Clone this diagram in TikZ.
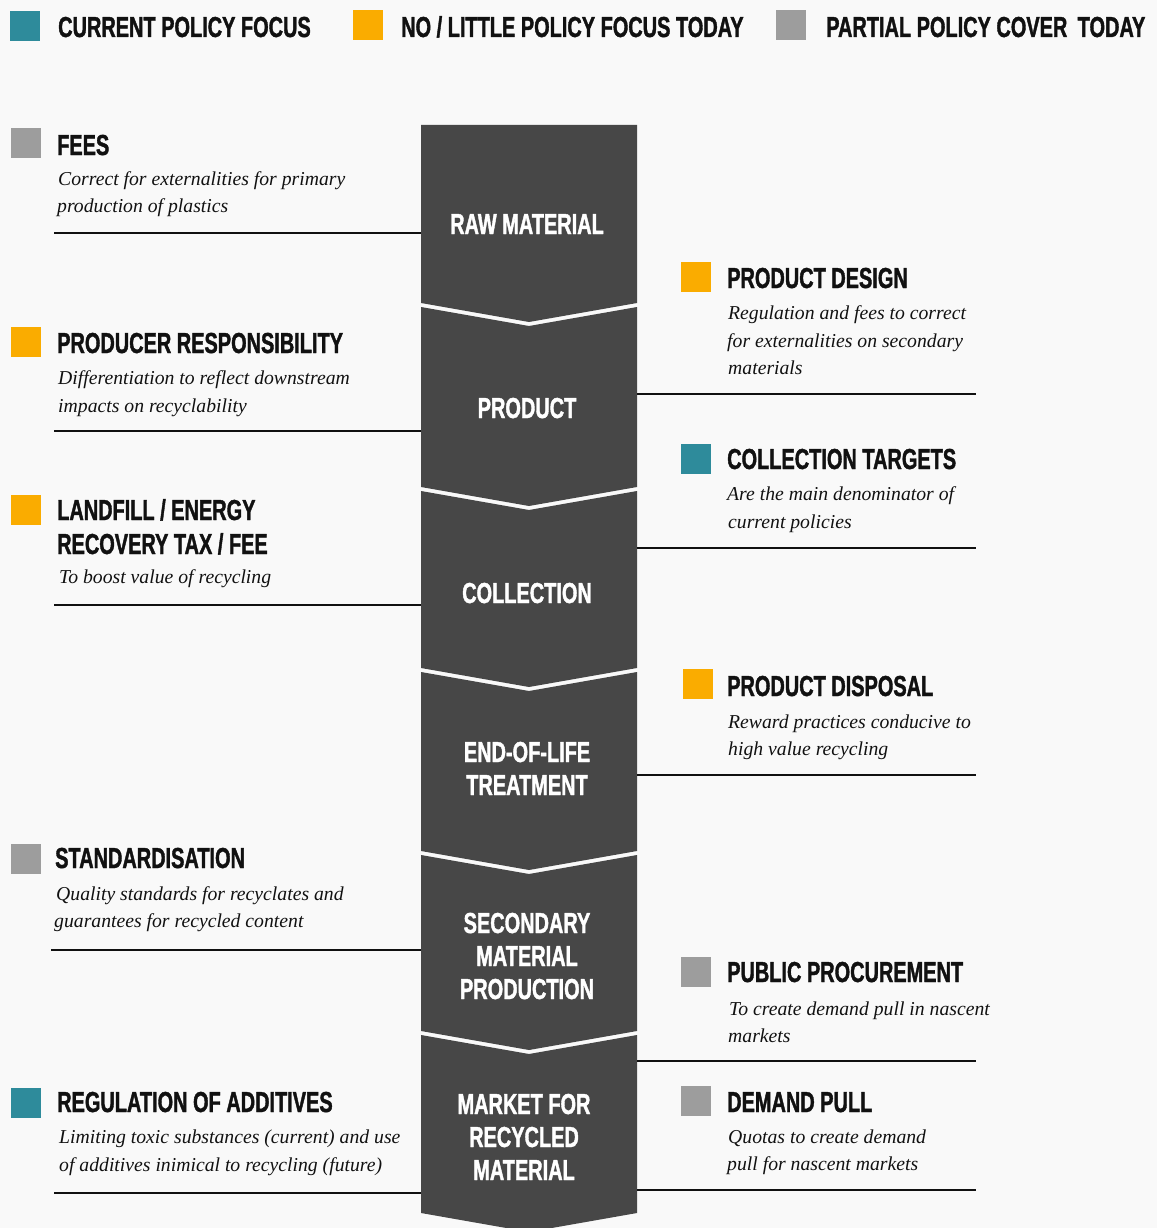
\documentclass[tikz,border=0pt]{standalone}
\usepackage{fontspec}
\newfontfamily\condf{Liberation Sans}[FakeStretch=0.69, BoldFeatures={FakeBold=1.3}]
\newfontfamily\descff{Liberation Serif}
\definecolor{bgc}{HTML}{F9F9F9}
\definecolor{teal}{HTML}{2E8B9B}
\definecolor{orng}{HTML}{FAAC00}
\definecolor{grey}{HTML}{9D9D9D}
\definecolor{dark}{HTML}{474747}
\definecolor{ink}{HTML}{111111}
\tikzset{
  ttl/.style={anchor=base west, inner sep=0pt, text=ink, font=\condf\bfseries\fontsize{28.9}{33}\selectfont},
  colt/.style={anchor=base, inner sep=0pt, text=white, font=\condf\bfseries\fontsize{28.9}{33}\selectfont},
  dsc/.style={anchor=base west, inner sep=0pt, text=ink, font=\descff\itshape\fontsize{19.7}{28}\selectfont},
  sq/.style={anchor=north west, inner sep=0pt, minimum width=30pt, minimum height=30pt, draw=none},
  seg/.style={fill=dark, draw=none},
  rule/.style={draw=ink, line width=1.2pt}
}
\begin{document}
\begin{tikzpicture}[x=1pt,y=-1pt]
\useasboundingbox (0,0) rectangle (1157,1228);
\fill[bgc] (0,0) rectangle (1157,1228);

% legend
\node[sq, fill=teal] (lg1) at (10,11) {};
\node[ttl] (lt1) at (58,37) {CURRENT POLICY FOCUS};
\node[sq, fill=orng] (lg2) at (353,10) {};
\node[ttl] (lt2) at (401,37) {NO / LITTLE POLICY FOCUS TODAY};
\node[sq, fill=grey] (lg3) at (776,10) {};
\node[ttl] (lt3) at (826,37) {PARTIAL POLICY COVER\ \,TODAY};

% column
\begin{scope}
\clip (0,0) rectangle (1157,1228);
\fill[seg] (421,125) -- (637,125) -- (637,303) -- (529,322) -- (421,303) -- cycle;
\fill[seg] (421,307) -- (529,326) -- (637,307) -- (637,487) -- (529,506) -- (421,487) -- cycle;
\fill[seg] (421,491) -- (529,510) -- (637,491) -- (637,668) -- (529,687) -- (421,668) -- cycle;
\fill[seg] (421,672) -- (529,691) -- (637,672) -- (637,851) -- (529,870) -- (421,851) -- cycle;
\fill[seg] (421,855) -- (529,874) -- (637,855) -- (637,1031) -- (529,1050) -- (421,1031) -- cycle;
\fill[seg] (421,1035) -- (529,1054) -- (637,1035) -- (637,1213) -- (529,1232) -- (421,1213) -- cycle;
\end{scope}

% column labels
\node[colt] (c1) at (527,234) {RAW MATERIAL};
\node[colt] (c2) at (527,418) {PRODUCT};
\node[colt] (c3) at (527,603) {COLLECTION};
\node[colt] (c4a) at (527,762) {END-OF-LIFE};
\node[colt] (c4b) at (527,795) {TREATMENT};
\node[colt] (c5a) at (527,933) {SECONDARY};
\node[colt] (c5b) at (527,966) {MATERIAL};
\node[colt] (c5c) at (527,999) {PRODUCTION};
\node[colt] (c6a) at (524,1114) {MARKET FOR};
\node[colt] (c6b) at (524,1147) {RECYCLED};
\node[colt] (c6c) at (524,1180) {MATERIAL};

% ---- left items
% FEES
\node[sq, fill=grey] (s1) at (11,128) {};
\node[ttl] (t1) at (57,155) {FEES};
\node[dsc] (d1a) at (58,185) {Correct for externalities for primary};
\node[dsc] (d1b) at (57,212) {production of plastics};
\coordinate (l1a) at (54,233); \coordinate (l1b) at (421,233);
\draw[rule] (l1a) -- (l1b);
% PRODUCER RESPONSIBILITY
\node[sq, fill=orng] (s2) at (11,327) {};
\node[ttl] (t2) at (57,353) {PRODUCER RESPONSIBILITY};
\node[dsc] (d2a) at (58,384) {Differentiation to reflect downstream};
\node[dsc] (d2b) at (58,412) {impacts on recyclability};
\coordinate (l2a) at (54,431); \coordinate (l2b) at (421,431);
\draw[rule] (l2a) -- (l2b);
% LANDFILL
\node[sq, fill=orng] (s3) at (11,495) {};
\node[ttl] (t3a) at (57,520) {LANDFILL / ENERGY};
\node[ttl] (t3b) at (57,554) {RECOVERY TAX / FEE};
\node[dsc] (d3a) at (59,583) {To boost value of recycling};
\coordinate (l3a) at (54,605); \coordinate (l3b) at (421,605);
\draw[rule] (l3a) -- (l3b);
% STANDARDISATION
\node[sq, fill=grey] (s4) at (11,844) {};
\node[ttl] (t4) at (55,868) {STANDARDISATION};
\node[dsc] (d4a) at (56,900) {Quality standards for recyclates and};
\node[dsc] (d4b) at (54,927) {guarantees for recycled content};
\coordinate (l4a) at (51,950); \coordinate (l4b) at (421,950);
\draw[rule] (l4a) -- (l4b);
% REGULATION OF ADDITIVES
\node[sq, fill=teal] (s5) at (11,1088) {};
\node[ttl] (t5) at (57,1112) {REGULATION OF ADDITIVES};
\node[dsc] (d5a) at (59,1143) {Limiting toxic substances (current) and use};
\node[dsc] (d5b) at (59,1171) {of additives inimical to recycling (future)};
\coordinate (l5a) at (54,1193); \coordinate (l5b) at (421,1193);
\draw[rule] (l5a) -- (l5b);

% ---- right items
% PRODUCT DESIGN
\node[sq, fill=orng] (r1) at (681,262) {};
\node[ttl] (rt1) at (727,288) {PRODUCT DESIGN};
\node[dsc] (rd1a) at (728,319) {Regulation and fees to correct};
\node[dsc] (rd1b) at (727,347) {for externalities on secondary};
\node[dsc] (rd1c) at (728,374) {materials};
\coordinate (rl1a) at (637,394); \coordinate (rl1b) at (976,394);
\draw[rule] (rl1a) -- (rl1b);
% COLLECTION TARGETS
\node[sq, fill=teal] (r2) at (681,444) {};
\node[ttl] (rt2) at (727,469) {COLLECTION TARGETS};
\node[dsc] (rd2a) at (727,500) {Are the main denominator of};
\node[dsc] (rd2b) at (728,528) {current policies};
\coordinate (rl2a) at (637,548); \coordinate (rl2b) at (976,548);
\draw[rule] (rl2a) -- (rl2b);
% PRODUCT DISPOSAL
\node[sq, fill=orng] (r3) at (683,669) {};
\node[ttl] (rt3) at (727,696) {PRODUCT DISPOSAL};
\node[dsc] (rd3a) at (728,728) {Reward practices conducive to};
\node[dsc] (rd3b) at (728,755) {high value recycling};
\coordinate (rl3a) at (637,775); \coordinate (rl3b) at (976,775);
\draw[rule] (rl3a) -- (rl3b);
% PUBLIC PROCUREMENT
\node[sq, fill=grey] (r4) at (681,957) {};
\node[ttl] (rt4) at (727,982) {PUBLIC PROCUREMENT};
\node[dsc] (rd4a) at (729,1015) {To create demand pull in nascent};
\node[dsc] (rd4b) at (728,1042) {markets};
\coordinate (rl4a) at (637,1061); \coordinate (rl4b) at (976,1061);
\draw[rule] (rl4a) -- (rl4b);
% DEMAND PULL
\node[sq, fill=grey] (r5) at (681,1086) {};
\node[ttl] (rt5) at (727,1112) {DEMAND PULL};
\node[dsc] (rd5a) at (728,1143) {Quotas to create demand};
\node[dsc] (rd5b) at (727,1170) {pull for nascent markets};
\coordinate (rl5a) at (637,1190); \coordinate (rl5b) at (976,1190);
\draw[rule] (rl5a) -- (rl5b);
\end{tikzpicture}
\end{document}
